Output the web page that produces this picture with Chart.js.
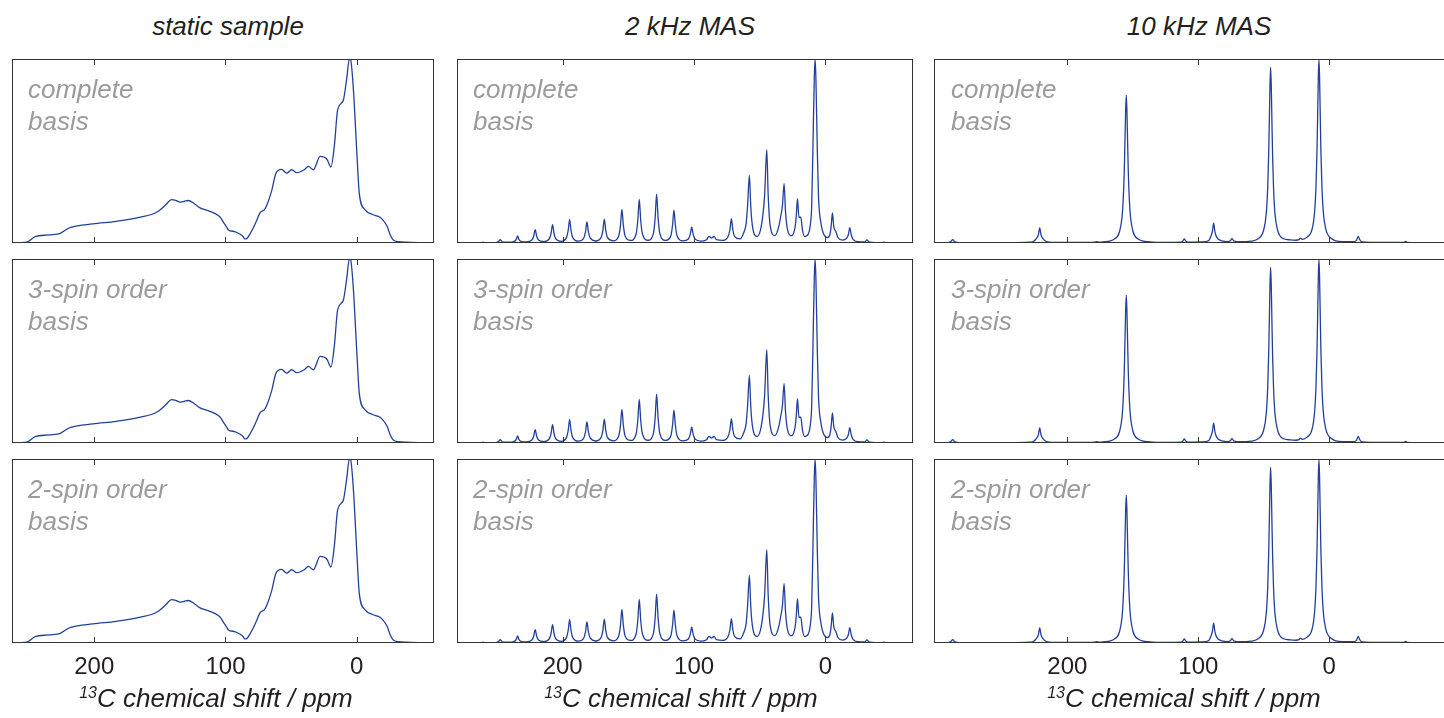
<!DOCTYPE html>
<html>
<head>
<meta charset="utf-8">
<script src="https://cdn.jsdelivr.net/npm/chart.js@4.4.1/dist/chart.umd.min.js"></script>
<style>
  body { margin: 0; width: 1444px; height: 718px; overflow: hidden; background: #fff;
         font-family: "Liberation Sans", Arial, sans-serif; }
  .panel { position: absolute; }
  .head { position: absolute; width: 300px; text-align: center; font-style: italic;
          font-size: 26px; line-height: 26px; color: #231f20; }
  .basis { position: absolute; font-style: italic; font-size: 26px; line-height: 32px;
           color: #9b9b9b; white-space: nowrap; }
  .xlab { position: absolute; width: 400px; text-align: center; font-style: italic;
          font-size: 26px; line-height: 26px; color: #231f20; }
  .xlab sup { font-size: 16px; vertical-align: 9px; line-height: 0; }
</style>
</head>
<body>
<script>
// 13C spectra, [ppm, normalised intensity], listed from high to low shift
const staticSpectrum = [
  [263, 0], [251.5, 0.004], [245, 0.035], [236, 0.043], [227, 0.049], [221, 0.075], [218, 0.085],
  [201, 0.104], [183, 0.118], [165, 0.14], [152.4, 0.167], [146, 0.204], [141, 0.236], [138, 0.232],
  [134.7, 0.222], [131, 0.228], [128.3, 0.231], [124, 0.215], [119.4, 0.191], [112, 0.172],
  [105.4, 0.149], [103, 0.13], [101.6, 0.113], [99, 0.085], [97.8, 0.071], [93, 0.062], [90.2, 0.053],
  [87, 0.038], [85.1, 0.022], [83.5, 0.026], [81.3, 0.049], [77, 0.11], [73.7, 0.164], [70.5, 0.18],
  [68.6, 0.204], [64.8, 0.285], [61.5, 0.38], [57.2, 0.4], [53.4, 0.38], [49.5, 0.398], [45.7, 0.382],
  [40, 0.398], [36.8, 0.416], [33, 0.398], [27.9, 0.471], [22.9, 0.458], [19.6, 0.413], [17, 0.531],
  [14.5, 0.725], [10.2, 0.776], [7.6, 0.895], [5.6, 1.0], [4.6, 0.995], [2.5, 0.831], [0, 0.504],
  [-2, 0.267], [-6.4, 0.18], [-12, 0.155], [-17.8, 0.14], [-20.5, 0.12], [-22.9, 0.095],
  [-25.5, 0.045], [-27.9, 0.016], [-32, 0.007], [-38, 0.004], [-59, 0]
];

const mas2Spectrum = [
  [280.4, 0], [270, 0.001], [262, 0.001], [260.7, 0.005], [259.4, 0.001], [254, 0.002],
  [250, 0.004], [248.7, 0.009], [247.5, 0.018], [246.3, 0.009], [245, 0.004], [241, 0.004],
  [236.8, 0.009], [235.3, 0.02], [234.3, 0.038], [233.3, 0.02], [231.8, 0.009], [227.6, 0.006],
  [223.4, 0.016], [222, 0.038], [220.9, 0.072], [219.8, 0.038], [218.4, 0.016], [214.3, 0.007],
  [210.2, 0.022], [208.8, 0.053], [207.7, 0.1], [206.6, 0.053], [205.2, 0.022], [201.2, 0.009],
  [197.2, 0.028], [195.8, 0.067], [194.7, 0.128], [193.6, 0.067], [192.2, 0.028], [188.1, 0.01],
  [184, 0.026], [182.6, 0.06], [181.5, 0.114], [180.4, 0.06], [179, 0.026], [174.9, 0.011],
  [170.8, 0.029], [169.4, 0.069], [168.3, 0.13], [167.2, 0.069], [165.8, 0.029], [161.6, 0.012],
  [157.4, 0.037], [156, 0.096], [154.9, 0.183], [153.8, 0.096], [152.4, 0.037], [148.3, 0.014],
  [144.2, 0.046], [142.8, 0.124], [141.7, 0.237], [140.6, 0.124], [139.2, 0.046], [135.1, 0.015],
  [131, 0.05], [129.6, 0.138], [128.5, 0.265], [127.4, 0.138], [126, 0.05], [121.9, 0.014],
  [117.8, 0.036], [116.4, 0.095], [115.3, 0.179], [114.2, 0.095], [112.8, 0.036], [108.5, 0.012],
  [104.3, 0.022], [102.9, 0.048], [101.8, 0.086], [100.7, 0.048], [99.3, 0.022], [95, 0.01],
  [90.5, 0.018], [88.6, 0.036], [86.7, 0.026], [84.8, 0.036], [83, 0.018], [78, 0.014],
  [74.1, 0.035], [72.7, 0.072], [71.6, 0.132], [70.5, 0.072], [69.1, 0.035], [65, 0.022],
  [62, 0.06], [60.5, 0.1], [59.3, 0.2], [57.9, 0.368], [56.8, 0.19], [55.3, 0.08], [52, 0.036],
  [49.5, 0.07], [47.5, 0.16], [46.3, 0.26], [44.7, 0.508], [43.6, 0.26], [42, 0.09], [38.5, 0.04],
  [35.5, 0.09], [34.2, 0.14], [32.8, 0.2], [31.5, 0.323], [30.4, 0.17], [28.8, 0.07], [26, 0.04],
  [23.3, 0.08], [22.3, 0.14], [21.3, 0.241], [20.2, 0.14], [18.8, 0.14], [17.5, 0.07], [15.8, 0.035],
  [13, 0.05], [11.5, 0.1], [10.5, 0.2], [9.6, 0.5], [8.5, 0.9], [7.9, 1.0], [7.3, 0.9], [6.2, 0.5],
  [5.3, 0.25], [3.5, 0.11], [2, 0.06], [-1.5, 0.03],
  [-3.5, 0.05], [-4.3, 0.09], [-5.3, 0.163], [-6.3, 0.09], [-8, 0.06], [-9.5, 0.03], [-12.9, 0.016],
  [-16, 0.025], [-17.4, 0.045], [-18.5, 0.083], [-19.6, 0.045], [-21, 0.02], [-24.8, 0.007],
  [-30, 0.006], [-31.5, 0.017], [-33, 0.006], [-38, 0.002], [-43.2, 0.002], [-44.4, 0.005],
  [-45.6, 0.002], [-52, 0], [-66.6, 0]
];

const mas10Spectrum = [
  [301.8, 0], [292, 0.001], [289.2, 0.006], [287.5, 0.018], [285.8, 0.006], [280, 0.001],
  [240, 0.002], [230, 0.004], [226, 0.008], [223.5, 0.025], [222.1, 0.045], [221.1, 0.082],
  [220.1, 0.045], [218.7, 0.025], [216, 0.008], [205, 0.003],
  [185, 0.003], [179, 0.004], [177.6, 0.008], [176.2, 0.005], [173, 0.006],
  [164, 0.022], [160.25, 0.06], [158.3, 0.137], [157.25, 0.25], [156.5, 0.4], [156.05, 0.54],
  [155.5, 0.716], [155, 0.804], [154.5, 0.716], [153.95, 0.54], [153.5, 0.4], [152.75, 0.25],
  [151.7, 0.137], [149.75, 0.06], [146, 0.022], [137, 0.006],
  [125, 0.003], [113, 0.004], [111.8, 0.011], [110.7, 0.022], [109.6, 0.011], [108, 0.005],
  [97, 0.006], [92, 0.014], [90.5, 0.035], [89.3, 0.06], [88.3, 0.108], [87.3, 0.06], [86, 0.032],
  [82, 0.012], [77, 0.008], [75.6, 0.012], [74.3, 0.023], [73, 0.012], [68, 0.007],
  [62.8, 0.008], [53.8, 0.026], [50.05, 0.072], [48.1, 0.162], [47.05, 0.296], [46.3, 0.478],
  [45.85, 0.64], [45.3, 0.85], [44.8, 0.955], [44.3, 0.85], [43.75, 0.64], [43.3, 0.478],
  [42.55, 0.296], [41.5, 0.162], [39.55, 0.072], [35.8, 0.026],
  [30, 0.017], [25.5, 0.015], [23.2, 0.018], [21.9, 0.026], [20.6, 0.02], [17, 0.032],
  [13.15, 0.075], [11.2, 0.17], [10.15, 0.31], [9.4, 0.5], [8.95, 0.67], [8.4, 0.89], [7.9, 1.0],
  [7.4, 0.89], [6.85, 0.67], [6.4, 0.5], [5.65, 0.31], [4.6, 0.17], [2.65, 0.075], [-1.1, 0.027],
  [-10.1, 0.007], [-19.5, 0.008], [-21, 0.018], [-22.1, 0.036], [-23.2, 0.018], [-25, 0.006],
  [-40, 0.003], [-56.8, 0.003], [-58.3, 0.009], [-59.8, 0.003], [-70, 0.001], [-89.1, 0]
];

const columnTitles = ['static sample', '2 kHz MAS', '10 kHz MAS'];
const rowLabels = [['complete', 'basis'], ['3-spin order', 'basis'], ['2-spin order', 'basis']];
const tickValues = [200, 100, 0];
const xAxisTitle = 'C chemical shift / ppm';
const isotope = '13';

// ppm window shown in each column
const columnRanges = [[262.7, -58.9], [280.4, -66.6], [301.8, -89.1]];
const columnSpectra = [staticSpectrum, mas2Spectrum, mas10Spectrum];

// layout
const colLeft = [12, 457, 934];
const colWidth = [422, 456, 512];
const rowTop = [59, 259, 459];
const panelH = 184;
const axisH = 46;
const headCenter = [228, 690, 1199];
const labelCenter = [216, 681, 1184];
const basisLeft = [28, 473, 951];
const lineColor = '#22409a';
const frameColor = '#333333';

// box around the plot area with inward ticks on top and bottom
const framePlugin = {
  id: 'frame',
  afterDraw(chart) {
    const { ctx, chartArea: a, scales } = chart;
    ctx.save();
    ctx.strokeStyle = frameColor;
    ctx.lineWidth = 1;
    ctx.strokeRect(a.left + 0.5, a.top + 0.5, a.right - a.left - 1, a.bottom - a.top - 1);
    tickValues.forEach(v => {
      const x = Math.round(scales.x.getPixelForValue(v)) + 0.5;
      ctx.beginPath();
      ctx.moveTo(x, a.top); ctx.lineTo(x, a.top + 6);
      ctx.moveTo(x, a.bottom); ctx.lineTo(x, a.bottom - 6);
      ctx.stroke();
    });
    ctx.restore();
  }
};

function addDiv(cls, left, top, html) {
  const d = document.createElement('div');
  d.className = cls;
  d.style.left = left + 'px';
  d.style.top = top + 'px';
  d.innerHTML = html;
  document.body.appendChild(d);
  return d;
}

function makePanel(col, row) {
  const bottomRow = row === 2;
  const canvas = document.createElement('canvas');
  canvas.className = 'panel';
  canvas.width = colWidth[col];
  canvas.height = panelH + (bottomRow ? axisH : 0);
  canvas.style.left = colLeft[col] + 'px';
  canvas.style.top = rowTop[row] + 'px';
  document.body.appendChild(canvas);

  const [maxPpm, minPpm] = columnRanges[col];
  new Chart(canvas.getContext('2d'), {
    type: 'line',
    data: {
      datasets: [{
        data: columnSpectra[col].map(p => ({ x: p[0], y: p[1] })),
        borderColor: lineColor,
        borderWidth: 1.3,
        pointRadius: 0,
        fill: false,
        cubicInterpolationMode: 'monotone'
      }]
    },
    options: {
      responsive: false,
      animation: false,
      devicePixelRatio: 1,
      layout: { padding: 0 },
      plugins: { legend: { display: false }, tooltip: { enabled: false } },
      scales: {
        x: {
          type: 'linear',
          reverse: true,
          min: minPpm,
          max: maxPpm,
          display: bottomRow,
          grid: { display: false, drawTicks: false },
          border: { display: false },
          ticks: {
            padding: 10,
            color: '#231f20',
            font: { family: '"Liberation Sans", Arial, sans-serif', size: 24 }
          },
          afterBuildTicks: s => { s.ticks = tickValues.map(v => ({ value: v })); },
          afterFit: s => { s.height = bottomRow ? axisH : 0; }
        },
        y: { display: false, min: 0, max: 1 }
      }
    },
    plugins: [framePlugin]
  });

  addDiv('basis', basisLeft[col], rowTop[row] + 14, rowLabels[row].join('<br>'));
}

for (let c = 0; c < 3; c++) {
  for (let r = 0; r < 3; r++) makePanel(c, r);
  addDiv('head', headCenter[c] - 150, 13, columnTitles[c]);
  addDiv('xlab', labelCenter[c] - 200, 685, '<sup>' + isotope + '</sup>' + xAxisTitle);
}
</script>
</body>
</html>
